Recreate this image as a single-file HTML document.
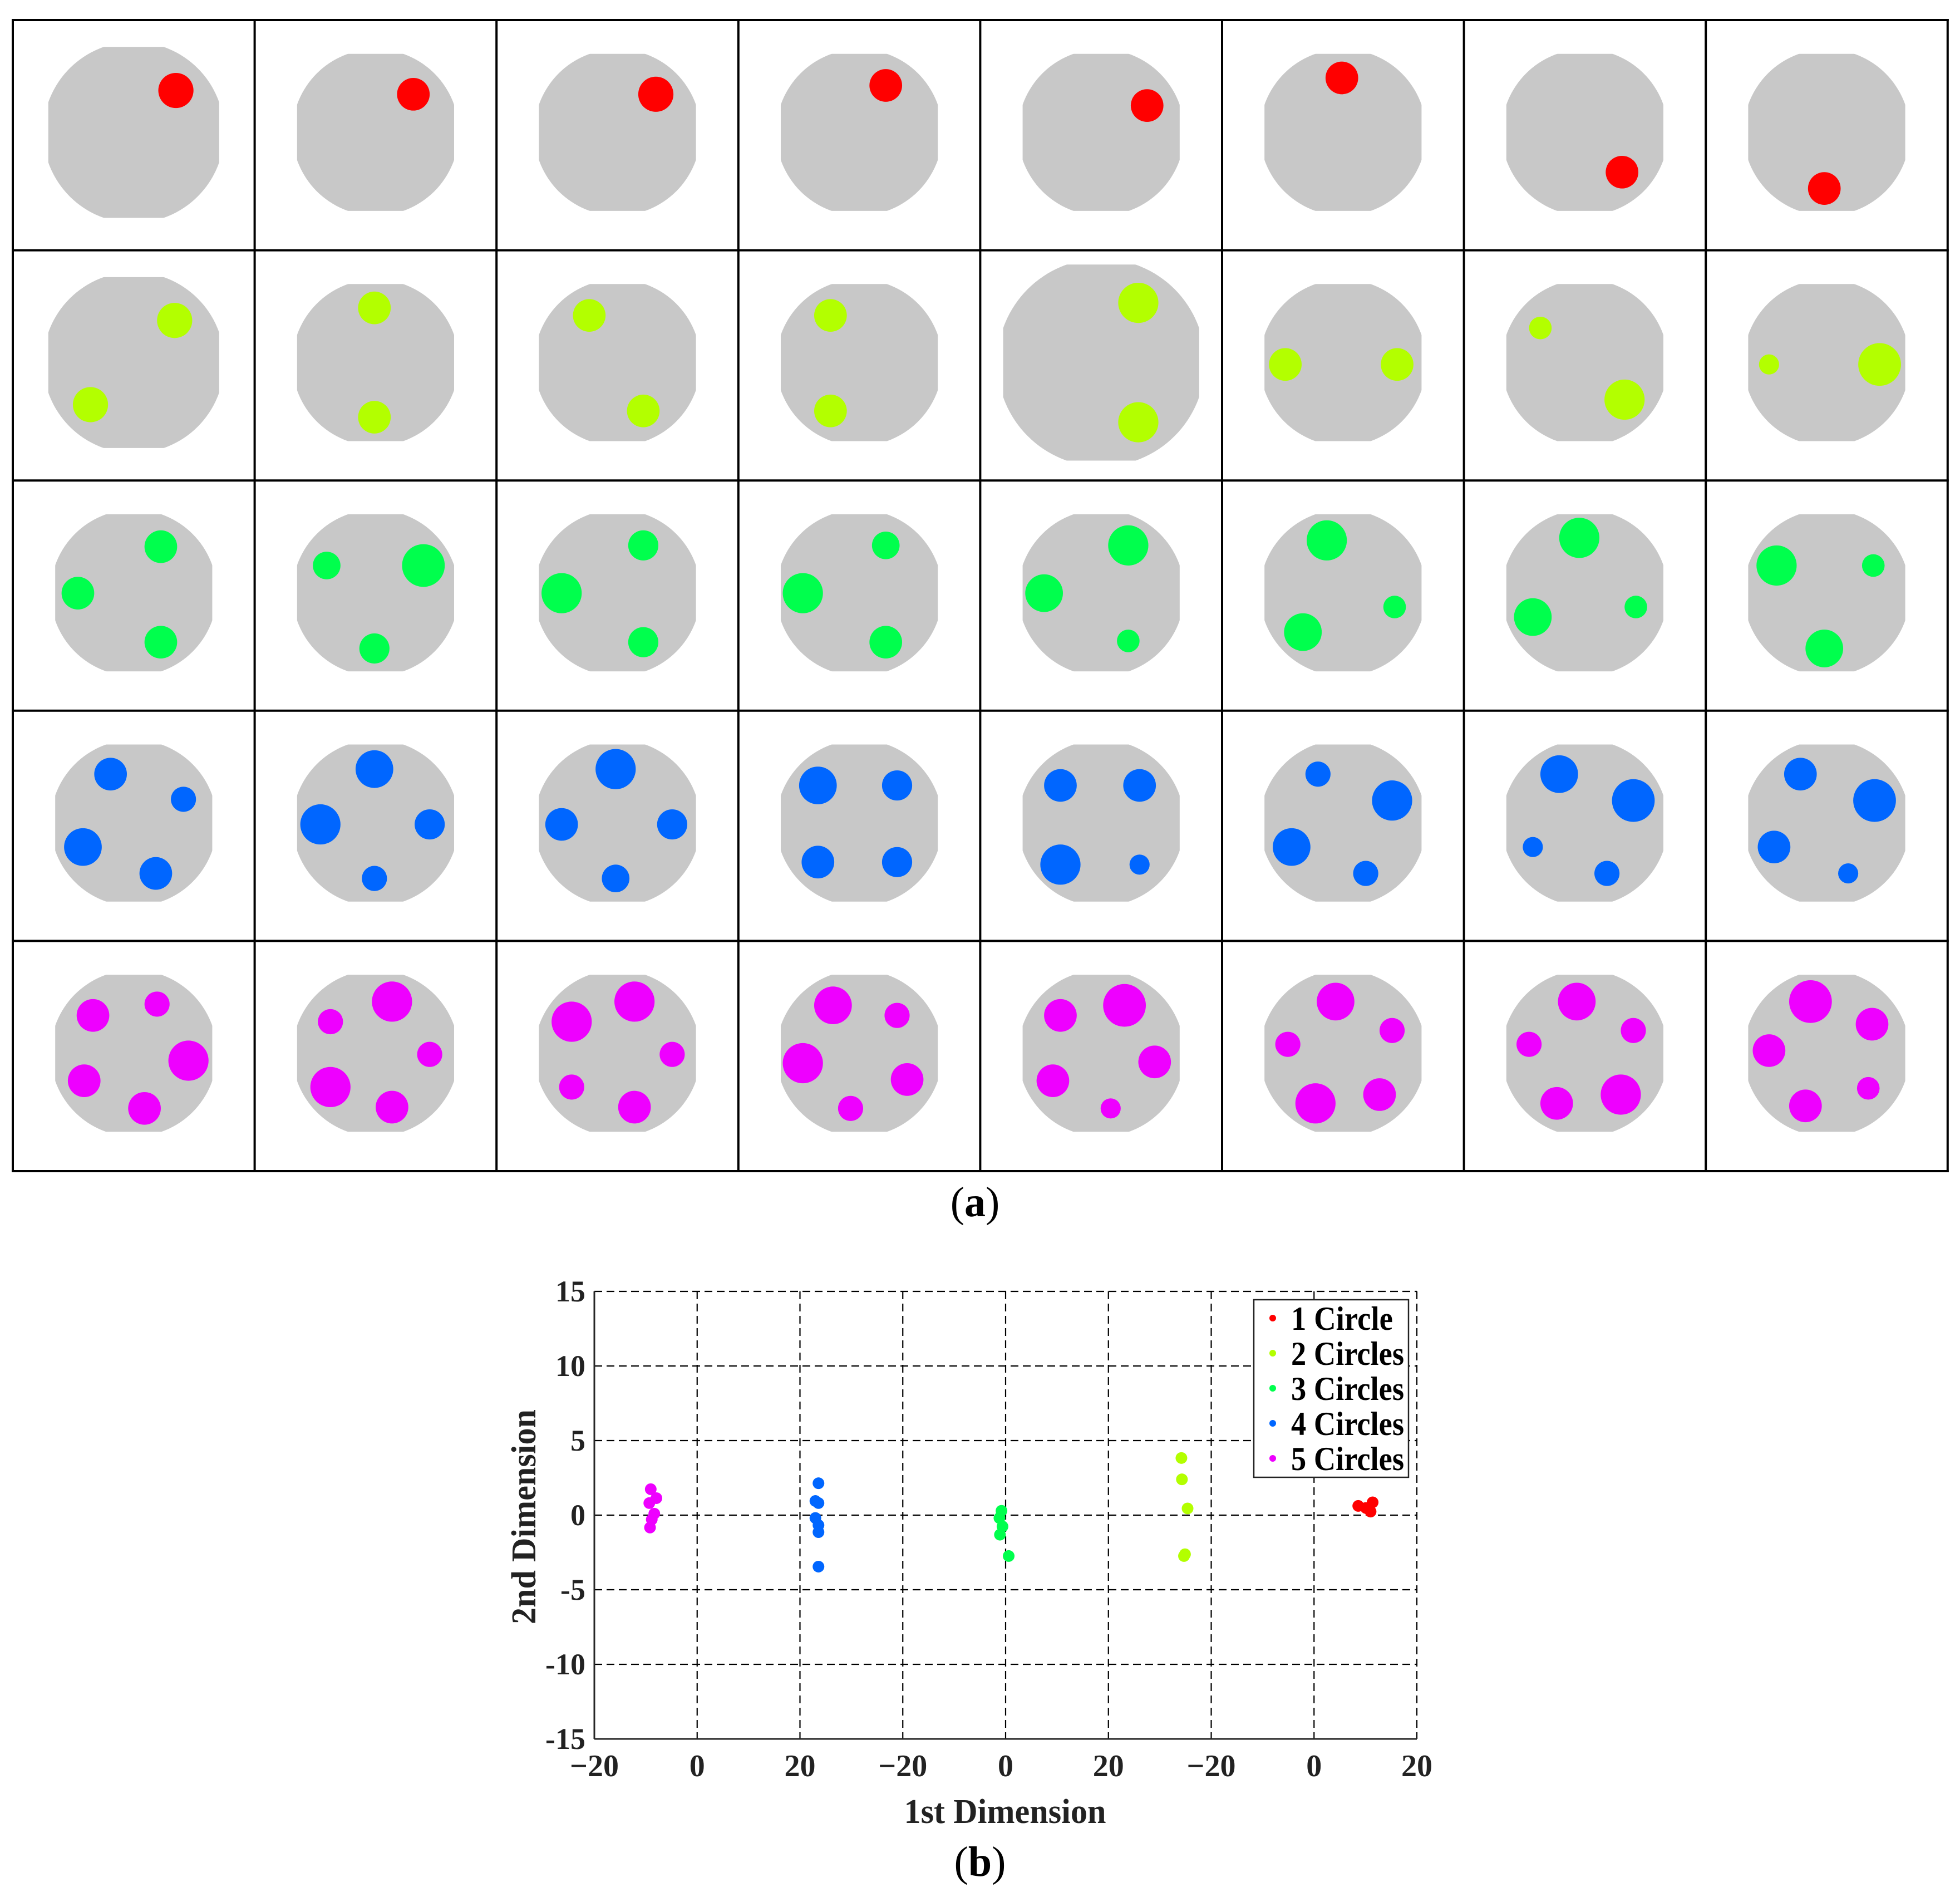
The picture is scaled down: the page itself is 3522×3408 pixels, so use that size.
<!DOCTYPE html>
<html><head><meta charset="utf-8"><style>
html,body{margin:0;padding:0;background:#fff}
svg{display:block}
text{font-family:"Liberation Serif",serif}
</style></head><body>
<svg id="root" xmlns="http://www.w3.org/2000/svg" width="3522" height="3408" viewBox="0 0 3522 3408">
<defs id="defs"></defs>
<rect width="3522" height="3408" fill="#fff"/>
<g id="gridPanel"></g>
<text x="1752" y="2185" font-size="76" text-anchor="middle">(<tspan font-weight="bold">a</tspan>)</text>
<g id="chart"></g>
<text x="1761" y="3370" font-size="76" text-anchor="middle">(<tspan font-weight="bold">b</tspan>)</text>
</svg>
<script>
const NS="http://www.w3.org/2000/svg";
function mk(tag,attrs,parent){const e=document.createElementNS(NS,tag);for(const k in attrs)e.setAttribute(k,attrs[k]);parent.appendChild(e);return e;}

/* ---------- image grid (a) ---------- */
const SCL=2.2577;
const rowColors=["#ff0000","#b3ff00","#00ff4d","#0066ff","#ee00ff"];
const diskSize=[[136,125,125,125,125,125,125,125],[136,125,125,125,156,125,125,125],[125,125,125,125,125,125,125,125],[125,125,125,125,125,125,125,125],[125,125,125,125,125,125,125,125]];
const blobs=[
[[[140,72,14]],[[329,75,13]],[[522,75,14]],[[705,68,13]],[[913,84,13]],[[1068,62,13]],[[1291,137,13]],[[1452,150,13]]],
[[[139,255,14],[72,322,14]],[[298,245,13],[298,332,13]],[[469,251,13],[512,327,13]],[[661,251,13],[661,327,13]],[[906,241,16],[906,336,16]],[[1023,290,13],[1112,290,13]],[[1226,261,9],[1293,318,16]],[[1408,290,8],[1496,290,17]]],
[[[128,435,13],[62,472,13],[128,511,13]],[[260,450,11],[337,450,17],[298,516,12]],[[512,434,12],[447,472,16],[512,511,12]],[[705,434,11],[639,472,16],[705,511,13]],[[898,434,16],[831,472,15],[898,510,9]],[[1056,430,16],[1037,503,15],[1110,483,9]],[[1257,428,16],[1220,491,15],[1302,483,9]],[[1414,450,16],[1491,450,9],[1452,516,15]]],
[[[88,616,13],[146,636,10],[66,674,15],[124,695,13]],[[298,612,15],[255,656,16],[342,656,12],[298,699,10]],[[490,612,16],[447,656,13],[535,656,12],[490,699,11]],[[651,625,15],[714,625,12],[651,686,13],[714,686,12]],[[844,625,13],[907,625,13],[844,688,16],[907,688,8]],[[1049,616,10],[1108,637,16],[1028,674,15],[1087,695,10]],[[1241,616,15],[1300,637,17],[1220,674,8],[1279,695,10]],[[1433,616,13],[1492,637,17],[1412,674,13],[1471,695,8]]],
[[[74,808,13],[125,799,10],[67,860,13],[150,844,16],[115,882,13]],[[263,813,10],[312,797,16],[342,839,10],[263,865,16],[312,881,13]],[[455,813,16],[505,797,16],[535,839,10],[455,865,10],[505,881,13]],[[663,800,15],[714,808,10],[639,846,16],[722,859,13],[677,882,10]],[[895,800,17],[844,808,13],[919,845,13],[838,860,13],[884,882,8]],[[1063,797,15],[1025,831,10],[1108,820,10],[1047,878,16],[1098,871,13]],[[1255,797,15],[1217,831,10],[1300,820,10],[1239,878,13],[1290,871,16]],[[1441,797,17],[1408,836,13],[1490,815,13],[1437,880,13],[1487,866,9]]]
];
const gp=document.getElementById('gridPanel');
const defsEl=document.getElementById('defs');
const GX0=23,GY0=36,CW=434.6,CH=413.6;
for(let r=0;r<5;r++){for(let c=0;c<8;c++){
  const cx=GX0+CW*(c+0.5), cy=GY0+CH*(r+0.5)-5;
  const d=diskSize[r][c]*SCL;
  const cp=mk('clipPath',{id:'cp'+r+'_'+c},defsEl);
  mk('rect',{x:cx-d/2,y:cy-d/2,width:d,height:d},cp);
  const disk=mk('circle',{cx:cx,cy:cy,r:d*0.53,fill:'#c8c8c8','clip-path':'url(#cp'+r+'_'+c+')'},gp);
  
  
  blobs[r][c].forEach(b=>{
    const e=mk('circle',{cx:b[0]*SCL,cy:b[1]*SCL,r:b[2]*SCL,fill:rowColors[r]},gp);
    
    
  });
}}
for(let i=0;i<=8;i++){const l=mk('line',{x1:GX0+CW*i,y1:GY0-2,x2:GX0+CW*i,y2:GY0+CH*5+2,stroke:'#000','stroke-width':4},gp);
  
  }
for(let j=0;j<=5;j++){const l=mk('line',{x1:GX0-2,y1:GY0+CH*j,x2:GX0+CW*8+2,y2:GY0+CH*j,stroke:'#000','stroke-width':4},gp);
  
  }

/* ---------- scatter chart (b) ---------- */
const seriesNames=["1 Circle","2 Circles","3 Circles","4 Circles","5 Circles"];
const seriesColors=["#ff0000","#b3ff00","#00ff4d","#0066ff","#ee00ff"];
const xTickLabels=["\u221220","0","20","\u221220","0","20","\u221220","0","20"];
const yTickValues=[15,10,5,0,-5,-10,-15];
const s1x=[128.6,131.4,131.0,130.1], s1y=[0.62,0.86,0.24,0.48];
const s2x=[94.2,94.3,95.4,94.9,94.7], s2y=[3.83,2.40,0.45,-2.62,-2.74];
const s3x=[59.2,58.8,59.4,58.9,60.6], s3y=[0.29,-0.19,-0.76,-1.31,-2.74];
const s4x=[23.6,23.0,23.6,23.0,23.6,23.6,23.6], s4y=[2.14,0.95,0.81,-0.19,-0.67,-1.14,-3.45];
const s5x=[-9.03,-7.93,-9.31,-8.34,-8.83,-9.17], s5y=[1.74,1.14,0.81,0.10,-0.29,-0.83];
const allX=[s1x,s2x,s3x,s4x,s5x], allY=[s1y,s2y,s3y,s4y,s5y];

const PL=1068,PR=2546,PT=2320,PB=3124;
const XMIN=-20,XMAX=140,YMIN=-15,YMAX=15;
const xsc=v=>PL+(v-XMIN)/(XMAX-XMIN)*(PR-PL);
const ysc=v=>PB-(v-YMIN)/(YMAX-YMIN)*(PB-PT);
const chartG=document.getElementById('chart');
xTickLabels.forEach((t,i)=>{const v=XMIN+20*i;
  if(i>0&&i<8){const l=mk('line',{x1:xsc(v),y1:PT,x2:xsc(v),y2:PB,stroke:'#000','stroke-width':2.2,'stroke-dasharray':'14 8'},chartG);
  
  }
  const tx=mk('text',{x:xsc(v),y:3191,'font-size':56,'font-weight':'bold','text-anchor':'middle',fill:'#222'},chartG);tx.textContent=t;
  
  
});
yTickValues.forEach(v=>{
  if(v!==15&&v!==-15){const l=mk('line',{x1:PL,y1:ysc(v),x2:PR,y2:ysc(v),stroke:'#000','stroke-width':2.2,'stroke-dasharray':'14 8'},chartG);
  
  }
  const tx=mk('text',{x:1052,y:ysc(v)+18,'font-size':54,'font-weight':'bold','text-anchor':'end',fill:'#222'},chartG);tx.textContent=String(v);
  
  
});
const topBorder=mk('line',{x1:PL,y1:PT,x2:PR,y2:PT,stroke:'#000','stroke-width':2.2,'stroke-dasharray':'14 8'},chartG);


const rightBorder=mk('line',{x1:PR,y1:PT,x2:PR,y2:PB,stroke:'#000','stroke-width':2.2,'stroke-dasharray':'14 8'},chartG);


const xAxisLine=mk('line',{x1:PL,y1:PB,x2:PR,y2:PB,stroke:'#262626','stroke-width':3},chartG);


const yAxisLine=mk('line',{x1:PL,y1:PT,x2:PL,y2:PB,stroke:'#262626','stroke-width':3},chartG);


allX.forEach((arr,si)=>{arr.forEach((xv,k)=>{
  const p=mk('circle',{cx:xsc(xv),cy:ysc(allY[si][k]),r:10.5,fill:seriesColors[si]},chartG);
  
  
});});
const lg=mk('g',{},chartG);


mk('rect',{x:2253,y:2335,width:278,height:319,fill:'#fff',stroke:'#222','stroke-width':2.5},lg);
const legendWidths=[183,203,203,203,203];
seriesNames.forEach((n,i)=>{const yy=2368+63*i;
  const m=mk('circle',{cx:2287,cy:yy,r:6,fill:seriesColors[i]},lg);
  
  
  const t=mk('text',{x:2320,y:yy+21,'font-size':60,'font-weight':'bold',fill:'#000',textLength:legendWidths[i],lengthAdjust:'spacingAndGlyphs'},lg);t.textContent=n;
  
  
});
const xTitle=mk('text',{x:1806,y:3275,'font-size':62,'font-weight':'bold','text-anchor':'middle',fill:'#222',textLength:363,lengthAdjust:'spacingAndGlyphs'},chartG);xTitle.textContent='1st Dimension';


const yTitle=mk('text',{x:0,y:0,'font-size':62,'font-weight':'bold','text-anchor':'middle',fill:'#222',textLength:386,lengthAdjust:'spacingAndGlyphs',transform:'translate(962,2725) rotate(-90)'},chartG);yTitle.textContent='2nd Dimension';


</script>
</body></html>
